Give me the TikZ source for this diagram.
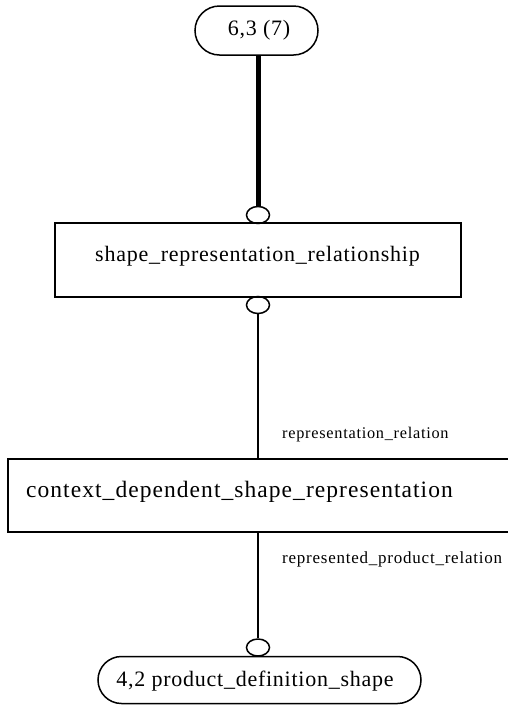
\documentclass[tikz,border=0pt]{standalone}
\usepackage{fontspec}
\setmainfont{Liberation Serif}
\newfontfamily\spA[LetterSpace=3.4]{Liberation Serif}
\newfontfamily\spB[LetterSpace=4.5]{Liberation Serif}
\usetikzlibrary{shapes.geometric}
\tikzset{
  ent/.style={draw, line width=1.5pt, rectangle, inner sep=0pt},
  ovalbox/.style={draw, line width=1.5pt, rectangle, inner sep=0pt},
  ring/.style={draw, line width=1.5pt, ellipse, minimum width=23pt, minimum height=17pt, inner sep=0pt},
  txt/.style={inner sep=0pt, anchor=base, font=\spA\fontsize{22pt}{24pt}\selectfont},
  lbl/.style={inner sep=0pt, anchor=base west},
  thin/.style={line width=1.3pt},
  thick/.style={line width=5pt}
}
\begin{document}
\begin{tikzpicture}[x=1pt,y=-1pt]
\useasboundingbox (0,0) rectangle (507,705);
% top oval
\node[ovalbox, rounded corners=24.5pt, minimum width=123pt, minimum height=49pt] (top) at (256.5,30.5) {};
\node[txt] (toptxt) at (259,35) {6,3 (7)};
% box 1
\node[ent, minimum width=406pt, minimum height=74pt] (b1) at (258,260) {};
\node[txt] (b1txt) at (257.5,261) {shape\_representation\_relationship};
% rings
\node[ring] (c1) at (258,215) {};
\node[ring] (c2) at (258,305) {};
% box 2
\node[ent, minimum width=512pt, minimum height=73pt] (b2) at (264,495.5) {};
\node[txt, font=\spB\fontsize{23.5pt}{25pt}\selectfont] (b2txt) at (239.5,497) {context\_dependent\_shape\_representation};
% bottom oval
\node[ring] (c3) at (258,647.5) {};
\node[ovalbox, rounded corners=23.5pt, minimum width=323pt, minimum height=47pt] (bot) at (259.5,680) {};
\node[txt] (bottxt) at (255,686) {4,2 product\_definition\_shape};
% connectors
\draw[thick] (top.south -| c1.north) -- (c1.north);
\draw[thin] (c2.south) -- (c2.south |- b2.north);
\draw[thin] (b2.south -| c3.north) -- (c3.north);
% labels
\node[lbl, font=\spB\fontsize{16.3pt}{18pt}\selectfont] (l1) at (282,438) {representation\_relation};
\node[lbl, font=\spB\fontsize{17pt}{18pt}\selectfont] (l2) at (282,563) {represented\_product\_relation};
\end{tikzpicture}
\end{document}
